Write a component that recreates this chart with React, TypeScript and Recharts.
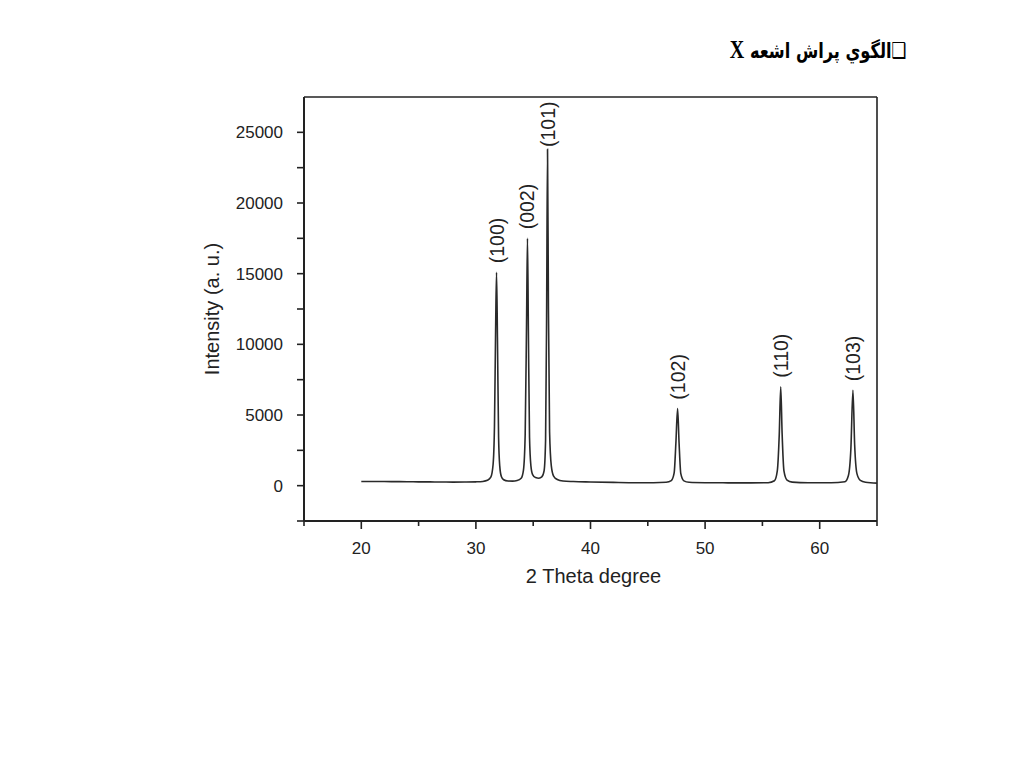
import React from 'react';
import {
  ComposedChart, Line, Scatter, XAxis, YAxis, ReferenceLine, Label,
} from 'recharts';

// 2 theta (deg) and intensity (a.u.)
const twoTheta = [
  20, 21, 22, 23, 24, 25, 26, 27, 28, 29, 30, 30.6, 31.0, 31.3, 31.5, 31.62, 31.72, 31.8, 31.88, 31.98, 32.08, 32.22, 32.42,
  32.8, 33.2, 33.6, 33.95, 34.15, 34.3, 34.42, 34.5, 34.58, 34.68, 34.8, 34.95, 35.2, 35.5, 35.75, 35.95, 36.08,
  36.17, 36.25, 36.33, 36.43, 36.58, 36.78, 37.1, 37.6, 38.5, 40, 42, 44, 45.5, 46.6, 47.05, 47.3, 47.45, 47.6,
  47.73, 47.88, 48.15, 48.6, 50, 52, 54, 55.5, 56.05, 56.3, 56.47, 56.6, 56.72, 56.88, 57.15, 57.6, 59, 61, 62.2,
  62.5, 62.72, 62.9, 63.05, 63.25, 63.55, 64, 65,
];
const intensity = [
  300, 300, 290, 285, 280, 270, 265, 260, 250, 255, 270, 300, 380, 600, 1500, 4200, 11000, 15100, 10500, 3400, 1400, 650, 420,
  330, 320, 360, 520, 1100, 3600, 11500, 17500, 11000, 3400, 1400, 780, 570, 530, 620, 1050, 3200,
  12000, 23800, 12500, 3800, 1400, 680, 440, 330, 290, 260, 230, 210, 210, 240, 360, 900, 3000, 5450,
  3000, 850, 340, 240, 210, 200, 195, 210, 350, 1050, 3600, 7000, 3700, 1050, 400, 250, 210, 210, 280,
  700, 2600, 6750, 2900, 850, 370, 240, 180,
];

const peakPos = [31.8, 34.5, 36.25, 47.6, 56.6, 62.9];
const peakHeight = [15100, 17500, 23800, 5450, 7000, 6750];
const peakLabels = ['(100)', '(002)', '(101)', '(102)', '(110)', '(103)'];

const xTicks = [15, 20, 25, 30, 35, 40, 45, 50, 55, 60, 65];
const yTicks = [-2500, 0, 2500, 5000, 7500, 10000, 12500, 15000, 17500, 20000, 22500, 25000];

const spectrum = twoTheta.map((x, i) => ({ x, y: intensity[i] }));
const peaks = peakPos.map((x, i) => ({ x, y: peakHeight[i], label: peakLabels[i] }));

const FONT = '"Liberation Sans", Arial, sans-serif';
const INK = '#222';

const YTick = (props: any) => {
  const { x, y, payload } = props;
  const v = payload.value;
  return (
    <g>
      <line x1={x} x2={x - 7} y1={y} y2={y} stroke={INK} strokeWidth={1.6} />
      {v % 5000 === 0 && (
        <text x={x - 21} y={y} dy={6} textAnchor="end" fontSize={17} fontFamily={FONT} fill={INK}>
          {v}
        </text>
      )}
    </g>
  );
};

const XTick = (props: any) => {
  const { x, y, payload } = props;
  const v = payload.value;
  const major = v % 10 === 0;
  return (
    <g>
      <line x1={x} x2={x} y1={y} y2={y + (major ? 8 : 5)} stroke={INK} strokeWidth={1.6} />
      {major && v > 15 && v < 65 && (
        <text x={x} y={y + 33} textAnchor="middle" fontSize={17} fontFamily={FONT} fill={INK}>
          {v}
        </text>
      )}
    </g>
  );
};

// rotated hkl label above a peak; kept inside the frame when the peak is tall
const PeakLabel = (props: any) => {
  const { cx, cy, payload } = props;
  const end = Math.max(cy - 9, 147);
  return (
    <text
      transform={`translate(${cx + 7},${end}) rotate(-90)`}
      fontSize={19.5}
      fontFamily={FONT}
      fill={INK}
    >
      {payload.label}
    </text>
  );
};

export default function App() {
  return (
    <div style={{ position: 'absolute', left: 0, top: 0, width: 1024, height: 768, background: '#fff' }}>
      <div
        dir="rtl"
        style={{
          position: 'absolute', right: 117, top: 35, fontWeight: 'bold', fontSize: 21,
          fontFamily: '"DejaVu Sans", sans-serif', color: '#000', whiteSpace: 'nowrap',
          transform: 'scaleX(0.77)', transformOrigin: 'right center',
        }}
      >
        <span style={{ fontSize: 22 }}>❑</span>الگوي پراش اشعه{' '}
        <span style={{ fontFamily: '"Liberation Serif", serif', fontSize: 26 }}>X</span>
      </div>
      <ComposedChart
        width={1024}
        height={768}
        margin={{ top: 97, right: 147, bottom: 167, left: 204 }}
      >
        <XAxis
          type="number"
          dataKey="x"
          domain={[15, 65]}
          ticks={xTicks}
          interval={0}
          height={80}
          tickSize={0}
          tickMargin={0}
          tickLine={false}
          tick={<XTick />}
          axisLine={{ stroke: INK, strokeWidth: 2 }}
          allowDataOverflow
        >
          <Label value="2 Theta degree" position="insideBottom" offset={18} dx={3} fontSize={20} fontFamily={FONT} fill={INK} />
        </XAxis>
        <YAxis
          type="number"
          dataKey="y"
          domain={[-2500, 27500]}
          ticks={yTicks}
          interval={0}
          width={100}
          tickSize={0}
          tickMargin={0}
          tickLine={false}
          tick={<YTick />}
          axisLine={{ stroke: INK, strokeWidth: 2 }}
          allowDataOverflow
        >
          <Label
            value="Intensity (a. u.)"
            angle={-90}
            position="insideLeft"
            offset={8}
            style={{ textAnchor: 'middle' }}
            fontSize={20}
            fontFamily={FONT}
            fill={INK}
          />
        </YAxis>
        <ReferenceLine y={27500} stroke={INK} strokeWidth={1.6} />
        <ReferenceLine x={65} stroke={INK} strokeWidth={1.6} />
        <Line
          data={spectrum}
          dataKey="y"
          type="monotone"
          stroke="#2a2a2a"
          strokeWidth={1.6}
          dot={false}
          isAnimationActive={false}
        />
        <Scatter data={peaks} dataKey="y" shape={<PeakLabel />} isAnimationActive={false} />
      </ComposedChart>
    </div>
  );
}
